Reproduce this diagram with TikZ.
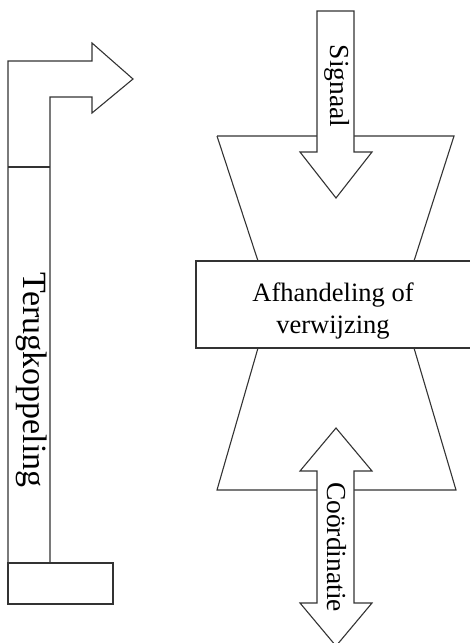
\documentclass[tikz,border=0pt]{standalone}
\usepackage{fontspec}
\setmainfont{Liberation Serif}
\begin{document}
\begin{tikzpicture}[x=1pt, y=-1pt, line width=1.1pt, draw=black!80,
    lbl/.style={inner sep=0pt, font=\fontsize{26.5}{32}\selectfont},
    arrowlbl/.style={lbl, font=\fontsize{27.5}{32}\selectfont, rotate=-90}]
    \useasboundingbox (0,0) rectangle (470,643);
    \clip (0,0) rectangle (470,643);

    % Feedback arrow
    \draw (8,563) -- (8,61) -- (92,61) -- (92,43) -- (133,79)
        -- (92,113) -- (92,97) -- (50,97) -- (50,563);
    \draw (8,167) -- (50,167);
    \draw (8,563) rectangle (113,604);
    \node[lbl, font=\fontsize{34}{40}\selectfont, rotate=-90] (feedback)
        at (32,380) {Terugkoppeling};

    % Funnels
    \draw (217,136) -- (454,136) -- (414,261);
    \draw (217,136) -- (258,261);
    \draw (258,348) -- (217,490) -- (456,490) -- (414,348);

    % Central block
    \draw (473,261) -- (196,261) -- (196,348) -- (473,348);
    \node[lbl, align=center] (handling) at (333,311)
        {Afhandeling of\\verwijzing};

    % Signal arrow
    \draw[fill=white] (317,11) -- (354,11) -- (354,152) -- (372,152)
        -- (336,198) -- (300,152) -- (317,152) -- cycle;
    \node[arrowlbl] (signal) at (337,86) {Signaal};

    % Coordination arrow
    \draw[fill=white] (336,428) -- (372,471) -- (354,471) -- (354,603)
        -- (372,603) -- (336,646) -- (300,603) -- (317,603)
        -- (317,471) -- (300,471) -- cycle;
    \node[arrowlbl] (coord) at (337,547) {Coördinatie};
\end{tikzpicture}
\end{document}
